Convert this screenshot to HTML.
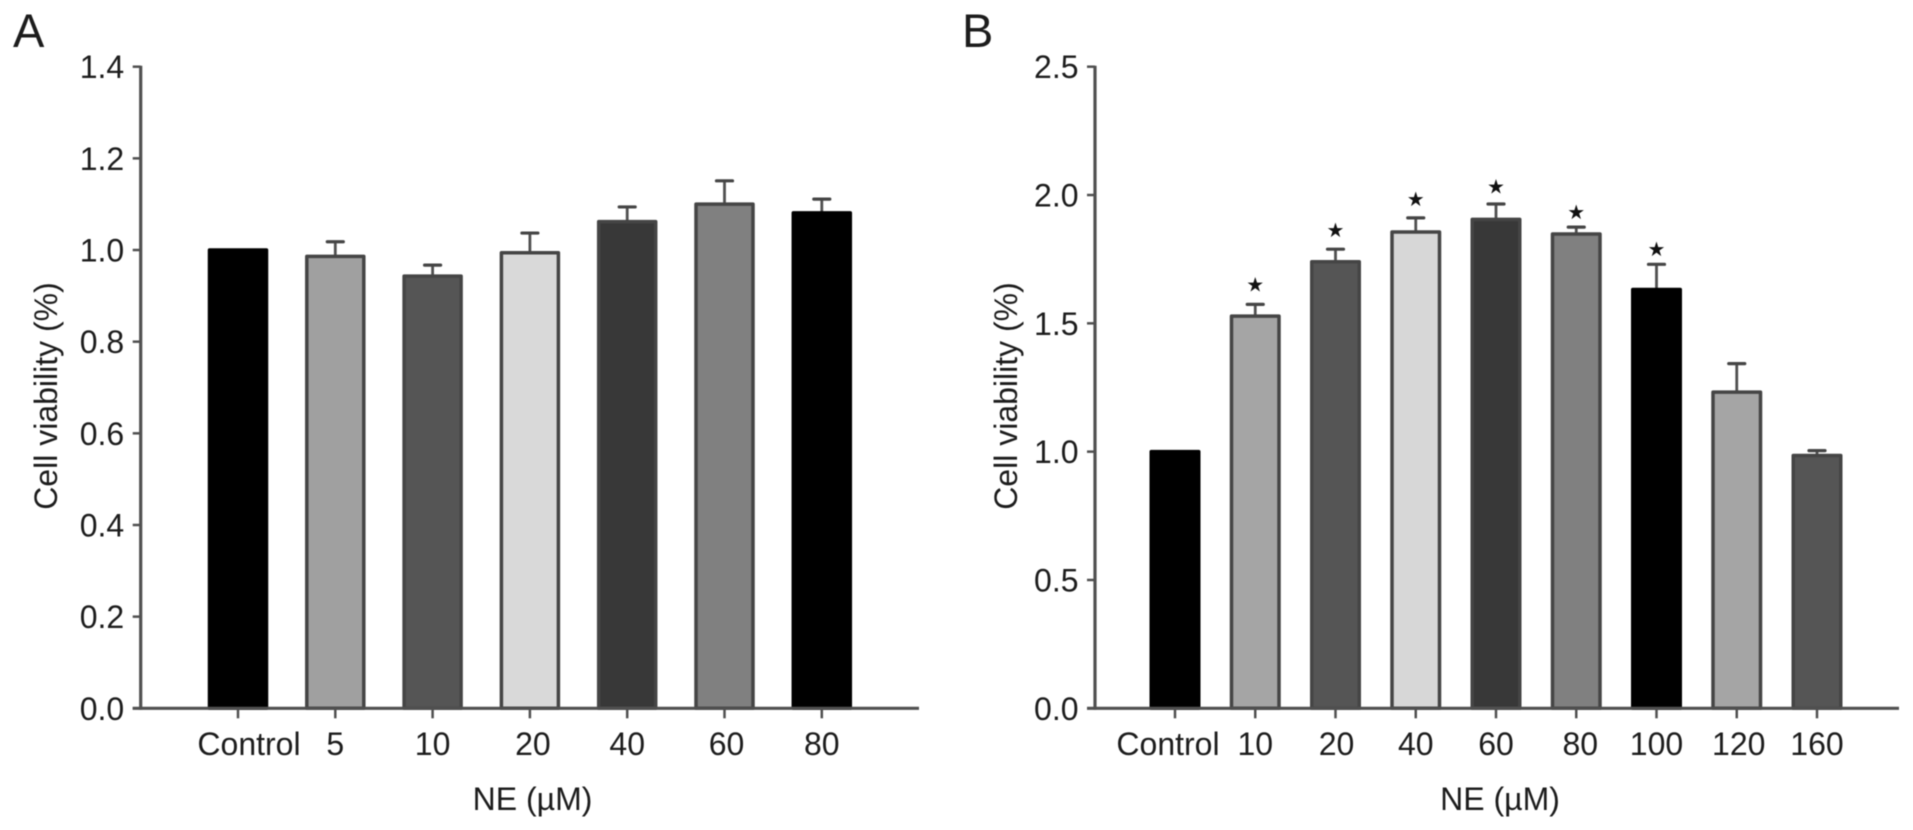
<!DOCTYPE html>
<html lang="en">
<head>
<meta charset="utf-8">
<title>Cell viability with NE treatment</title>
<style>
  html, body { margin: 0; padding: 0; background: #fff; width: 1913px; height: 830px; overflow: hidden; }
  svg { display: block; filter: blur(0.55px); }
  text { font-family: "Liberation Sans", Arial, sans-serif; fill: #1c1c1c; }
</style>
</head>
<body>
<svg id="figure" xmlns="http://www.w3.org/2000/svg" width="1913" height="830" viewBox="0 0 1913 830">
  <text x="13" y="47" font-size="47">A</text>
  <text x="962" y="47" font-size="47">B</text>
  <g id="panel-a"></g>
  <g id="panel-b"></g>
</svg>
<script>
const categoriesA = ['Control', '5', '10', '20', '40', '60', '80'];
const valuesA = [1.0, 0.986, 0.943, 0.994, 1.062, 1.100, 1.081];
const errorsA = [0, 0.032, 0.024, 0.043, 0.032, 0.051, 0.030];
const yTicksA = ['0.0', '0.2', '0.4', '0.6', '0.8', '1.0', '1.2', '1.4'];

const categoriesB = ['Control', '10', '20', '40', '60', '80', '100', '120', '160'];
const valuesB = [1.0, 1.528, 1.740, 1.856, 1.905, 1.848, 1.632, 1.232, 0.985];
const errorsB = [0, 0.046, 0.049, 0.055, 0.060, 0.027, 0.098, 0.111, 0.019];
const starsB = [null, 1.652, 1.864, 1.985, 2.033, 1.933, 1.790, null, null];
const yTicksB = ['0.0', '0.5', '1.0', '1.5', '2.0', '2.5'];

const SVG_NS = 'http://www.w3.org/2000/svg';

function make(parent, tag, props, content) {
  const el = document.createElementNS(SVG_NS, tag);
  for (const k in props) el.setAttribute(k, props[k]);
  if (content !== undefined) el.textContent = content;
  parent.appendChild(el);
  return el;
}

function drawPanel(cfg) {
  const root = document.getElementById(cfg.id);
  const yMax = parseFloat(cfg.yTicks[cfg.yTicks.length - 1]);
  const yScale = v => cfg.y0 - (v / yMax) * (cfg.y0 - cfg.yTop);
  const xScale = i => cfg.x0 + i * cfg.step;
  const axisColor = '#505050';

  // value axis
  const yAxis = make(root, 'line', { x1: cfg.axisX, x2: cfg.axisX, y1: cfg.yTop - 1, y2: cfg.y0 + 1.5, stroke: axisColor, 'stroke-width': 3.2 });
  
  

  cfg.yTicks.forEach(label => {
    const y = yScale(parseFloat(label));
    const tick = make(root, 'line', { x1: cfg.axisX - 8, x2: cfg.axisX, y1: y, y2: y, stroke: axisColor, 'stroke-width': 2.5 });
    
    
    const text = make(root, 'text', { x: cfg.axisX - 16.5, y: y + 11.5, 'font-size': 32, 'text-anchor': 'end' }, label);
    
    
  });

  // bars with error whiskers
  cfg.categories.forEach((cat, i) => {
    const cx = xScale(i);
    const top = yScale(cfg.values[i]);
    const fill = cfg.fills[i];
    const barStroke = fill === '#000' ? '#000' : '#454545';

    if (cfg.errors[i] > 0) {
      const errTop = yScale(cfg.values[i] + cfg.errors[i]);
      const stem = make(root, 'line', { x1: cx, x2: cx, y1: errTop, y2: top, stroke: axisColor, 'stroke-width': 2.8 });
      
      
      const cap = make(root, 'line', { x1: cx - 8, x2: cx + 8, y1: errTop, y2: errTop, stroke: '#454545', 'stroke-width': 3.2, 'stroke-linecap': 'round' });
      
      
    }

    const bar = make(root, 'rect', {
      x: cx - cfg.barW / 2, y: top, width: cfg.barW, height: cfg.y0 - top,
      fill: fill, stroke: barStroke, 'stroke-width': 3.5, 'stroke-linejoin': 'round'
    });
    
    

    const tick = make(root, 'line', { x1: cx, x2: cx, y1: cfg.y0, y2: cfg.y0 + 10, stroke: axisColor, 'stroke-width': 2.5 });
    
    

    const nudge = cfg.nudges[cat] || 0;
    const label = make(root, 'text', { x: cx + nudge, y: 755, 'font-size': 32, 'text-anchor': 'middle' }, cat);
    
    

    if (cfg.stars && cfg.stars[i] !== null) {
      const star = make(root, 'text', {
        x: cx, y: yScale(cfg.stars[i]) + 7, 'font-size': 20, 'text-anchor': 'middle',
        style: 'font-family:"DejaVu Sans",sans-serif;fill:#111'
      }, '\u2605');
      
      
    }
  });

  // category axis, drawn last so it sits over bar bottoms
  const xAxis = make(root, 'line', { x1: cfg.axisX - 8, x2: cfg.xEnd, y1: cfg.y0, y2: cfg.y0, stroke: axisColor, 'stroke-width': 3.2 });
  
  

  // axis titles
  const yTitle = make(root, 'text', {
    transform: 'translate(' + cfg.titleX + ',396) rotate(-90)',
    'font-size': 32, 'text-anchor': 'middle'
  }, 'Cell viability (%)');
  
  

  const xTitle = make(root, 'text', { x: cfg.xTitleX, y: 810, 'font-size': 32, 'text-anchor': 'middle' }, 'NE (\u00B5M)');
  
  
}

drawPanel({
  id: 'panel-a',
  categories: categoriesA, values: valuesA, errors: errorsA, yTicks: yTicksA, stars: null,
  fills: ['#000', '#a0a0a0', '#555', '#d9d9d9', '#383838', '#808080', '#000'],
  nudges: { 'Control': 11, '20': 3, '60': 2 },
  axisX: 140.7, xEnd: 919, y0: 708.3, yTop: 66.7,
  x0: 238, step: 97.3, barW: 57,
  titleX: 57, xTitleX: 532.5
});

drawPanel({
  id: 'panel-b',
  categories: categoriesB, values: valuesB, errors: errorsB, yTicks: yTicksB, stars: starsB,
  fills: ['#000', '#a5a5a5', '#555', '#d7d7d7', '#383838', '#808080', '#000', '#a5a5a5', '#555'],
  nudges: { 'Control': -7, '20': 1, '80': 4, '120': 2 },
  axisX: 1095, xEnd: 1899, y0: 708.3, yTop: 66.7,
  x0: 1175, step: 80.25, barW: 47.5,
  titleX: 1017, xTitleX: 1500
});
</script>
</body>
</html>
